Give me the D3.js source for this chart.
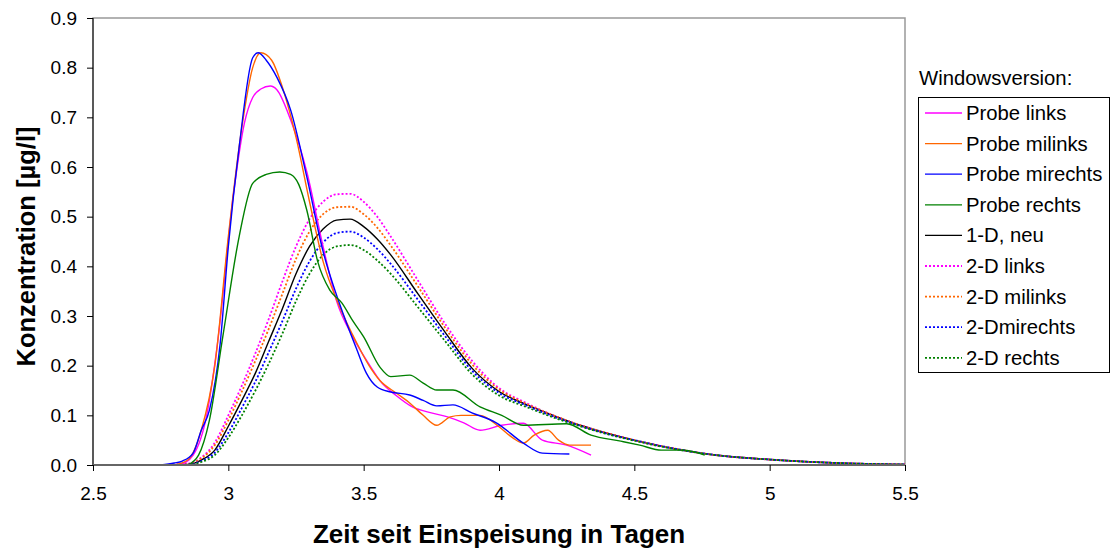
<!DOCTYPE html>
<html>
<head>
<meta charset="utf-8">
<script src="https://cdn.jsdelivr.net/npm/d3@7"></script>
<style>
  body { margin: 0; background: #fff; }
  text { font-family: "Liberation Sans", Arial, sans-serif; }
</style>
</head>
<body>
<div id="chart"></div>
<script>
/* DATA */
// measured samples: [time in days, concentration µg/l]
const probeLinks = [[2.82,0],[2.87,0.02],[2.92,0.1],[2.96,0.245],[3.02,0.55],[3.06,0.69],[3.09,0.74],[3.12,0.757],[3.155,0.763],[3.18,0.755],[3.23,0.695],[3.29,0.59],[3.35,0.44],[3.4,0.33],[3.46,0.258],[3.535,0.19],[3.56,0.17],[3.62,0.14],[3.68,0.117],[3.75,0.105],[3.81,0.097],[3.87,0.085],[3.93,0.07],[4.01,0.08],[4.09,0.084],[4.16,0.05],[4.25,0.04],[4.34,0.02]];
const probeMilinks = [[2.8,0],[2.85,0.01],[2.9,0.07],[2.95,0.2],[3.0,0.46],[3.05,0.68],[3.09,0.8],[3.12,0.83],[3.16,0.815],[3.2,0.76],[3.25,0.66],[3.3,0.53],[3.35,0.41],[3.41,0.32],[3.475,0.245],[3.52,0.2],[3.56,0.17],[3.62,0.145],[3.67,0.125],[3.72,0.1],[3.77,0.08],[3.82,0.097],[3.86,0.1],[3.93,0.1],[4.0,0.077],[4.05,0.055],[4.09,0.044],[4.13,0.06],[4.18,0.07],[4.22,0.05],[4.26,0.04],[4.34,0.04]];
const probeMirechts = [[2.75,0],[2.8,0.004],[2.83,0.008],[2.87,0.024],[2.9,0.07],[2.93,0.11],[2.97,0.245],[3.0,0.44],[3.04,0.64],[3.09,0.82],[3.11,0.83],[3.14,0.815],[3.18,0.78],[3.23,0.715],[3.29,0.58],[3.35,0.43],[3.41,0.326],[3.475,0.232],[3.51,0.185],[3.55,0.157],[3.6,0.147],[3.67,0.141],[3.72,0.13],[3.77,0.119],[3.83,0.121],[3.9,0.105],[3.99,0.085],[4.09,0.044],[4.16,0.024],[4.26,0.022]];
const probeRechts = [[2.85,0],[2.89,0.02],[2.93,0.09],[2.98,0.26],[3.04,0.46],[3.09,0.567],[3.14,0.585],[3.19,0.59],[3.23,0.585],[3.26,0.565],[3.29,0.513],[3.33,0.41],[3.375,0.352],[3.42,0.326],[3.46,0.29],[3.5,0.258],[3.56,0.197],[3.6,0.178],[3.67,0.181],[3.72,0.165],[3.77,0.151],[3.83,0.151],[3.93,0.117],[4.01,0.1],[4.09,0.08],[4.25,0.083],[4.34,0.06],[4.45,0.048],[4.52,0.04],[4.6,0.03],[4.68,0.03],[4.76,0.02]];

// model curves share one time grid
const modelTimes = [2.75,2.85,2.9,2.95,3.0,3.05,3.1,3.15,3.2,3.25,3.3,3.35,3.4,3.45,3.5,3.55,3.6,3.7,3.8,3.9,4.0,4.1,4.2,4.3,4.4,4.5,4.6,4.8,5.0,5.25,5.5];
const model1D = [0,0.001,0.01,0.03,0.078,0.13,0.185,0.25,0.315,0.385,0.44,0.475,0.493,0.495,0.48,0.455,0.423,0.345,0.268,0.195,0.148,0.122,0.1,0.08,0.064,0.05,0.038,0.02,0.011,0.004,0.001];
const model2DLinks = [0,0.003,0.015,0.045,0.1,0.16,0.225,0.295,0.37,0.44,0.495,0.53,0.545,0.546,0.53,0.5,0.46,0.372,0.285,0.21,0.155,0.125,0.1,0.08,0.064,0.05,0.038,0.02,0.011,0.004,0.001];
const model2DMilinks = [0,0.002,0.013,0.04,0.09,0.148,0.21,0.275,0.345,0.415,0.47,0.505,0.519,0.52,0.505,0.478,0.442,0.36,0.277,0.203,0.152,0.123,0.1,0.08,0.064,0.05,0.038,0.02,0.011,0.004,0.001];
const model2DMirechts = [0,0.001,0.008,0.025,0.065,0.115,0.168,0.228,0.29,0.355,0.41,0.448,0.467,0.47,0.458,0.435,0.405,0.333,0.26,0.19,0.145,0.12,0.098,0.079,0.063,0.05,0.038,0.02,0.011,0.004,0.001];
const model2DRechts = [0,0,0.006,0.02,0.055,0.1,0.15,0.205,0.265,0.33,0.385,0.423,0.44,0.443,0.433,0.412,0.385,0.318,0.25,0.183,0.14,0.117,0.096,0.078,0.062,0.049,0.037,0.02,0.011,0.004,0.001];

const xTicks = [2.5, 3, 3.5, 4, 4.5, 5, 5.5];
const yTicks = [0, 0.1, 0.2, 0.3, 0.4, 0.5, 0.6, 0.7, 0.8, 0.9];

const series = [
  { name: 'Probe links', color: '#ff00ff', dash: null, pts: probeLinks },
  { name: 'Probe milinks', color: '#ff6600', dash: null, pts: probeMilinks },
  { name: 'Probe mirechts', color: '#0000ff', dash: null, pts: probeMirechts },
  { name: 'Probe rechts', color: '#008000', dash: null, pts: probeRechts },
  { name: '1-D, neu', color: '#000000', dash: null, pts: modelTimes.map((t, i) => [t, model1D[i]]) },
  { name: '2-D links', color: '#ff00ff', dash: '2,2', pts: modelTimes.map((t, i) => [t, model2DLinks[i]]) },
  { name: '2-D milinks', color: '#ff6600', dash: '2,2', pts: modelTimes.map((t, i) => [t, model2DMilinks[i]]) },
  { name: '2-Dmirechts', color: '#0000ff', dash: '2,2', pts: modelTimes.map((t, i) => [t, model2DMirechts[i]]) },
  { name: '2-D rechts', color: '#008000', dash: '2,2', pts: modelTimes.map((t, i) => [t, model2DRechts[i]]) }
];

/* LAYOUT */
const W = 1114, H = 550;
const plot = { left: 93, right: 905, top: 18, bottom: 465 };

const svg = d3.select('#chart').append('svg')
  .attr('width', W).attr('height', H);

const x = d3.scaleLinear().domain([2.5, 5.5]).range([plot.left, plot.right]);
const y = d3.scaleLinear().domain([0, 0.9]).range([plot.bottom, plot.top]);

// plot area border (grey, Excel style)
svg.append('rect')
  .attr('x', plot.left).attr('y', plot.top)
  .attr('width', plot.right - plot.left).attr('height', plot.bottom - plot.top)
  .attr('fill', 'none').attr('stroke', '#999').attr('stroke-width', 1.5);

// lines
const line = d3.line()
  .x(d => x(d[0]))
  .y(d => y(d[1]))
  .curve(d3.curveMonotoneX);

const lines = svg.append('g');
// model curves first, measured on top
[...series.slice(4), ...series.slice(0, 4)].forEach(s => {
  lines.append('path')
    .attr('d', line(s.pts))
    .attr('fill', 'none')
    .attr('stroke', s.color)
    .attr('stroke-width', s.dash ? 1.8 : 1.4)
    .attr('stroke-dasharray', s.dash);
});

// axes
const yAxis = svg.append('g')
  .attr('transform', `translate(${plot.left},0)`)
  .call(d3.axisLeft(y).tickValues(yTicks).tickFormat(d3.format('.1f')).tickSize(6).tickPadding(10));
const xAxis = svg.append('g')
  .attr('transform', `translate(0,${plot.bottom})`)
  .call(d3.axisBottom(x).tickValues(xTicks).tickFormat(d => d).tickSize(6).tickPadding(16));

yAxis.select('.domain').attr('stroke', '#000').attr('d', `M0,${plot.top}V${plot.bottom}`);
xAxis.select('.domain').attr('stroke', '#666').attr('stroke-width', 2).attr('d', `M${plot.left},0H${plot.right}`);
svg.selectAll('.tick line').attr('stroke', '#000');
svg.selectAll('.tick text')
  .style('font-family', '"Liberation Sans", Arial, sans-serif')
  .attr('font-size', 19).attr('fill', '#000');

// axis titles
svg.append('text')
  .attr('x', 499).attr('y', 543)
  .attr('text-anchor', 'middle')
  .attr('font-size', 26).attr('font-weight', 'bold')
  .text('Zeit seit Einspeisung in Tagen');

svg.append('text')
  .attr('transform', `translate(35,${(plot.top + plot.bottom) / 2 + 5}) rotate(-90)`)
  .attr('text-anchor', 'middle')
  .attr('font-size', 25.5).attr('font-weight', 'bold')
  .text('Konzentration [µg/l]');

// legend
svg.append('text')
  .attr('x', 919).attr('y', 85)
  .attr('font-size', 20.3)
  .text('Windowsversion:');

const legend = svg.append('g');
legend.append('rect')
  .attr('x', 918.5).attr('y', 97.5).attr('width', 191).attr('height', 275)
  .attr('fill', '#fff').attr('stroke', '#000').attr('stroke-width', 1);

const rows = legend.selectAll('g.row').data(series).join('g')
  .attr('class', 'row')
  .attr('transform', (d, i) => `translate(0,${113 + i * 30.6})`);
rows.append('line')
  .attr('x1', 925).attr('x2', 962).attr('y1', 0).attr('y2', 0)
  .attr('stroke', d => d.color)
  .attr('stroke-width', d => d.dash ? 1.8 : 1.3)
  .attr('stroke-dasharray', d => d.dash);
rows.append('text')
  .attr('x', 966).attr('y', 7)
  .attr('font-size', 20.3)
  .text(d => d.name);
</script>
</body>
</html>
